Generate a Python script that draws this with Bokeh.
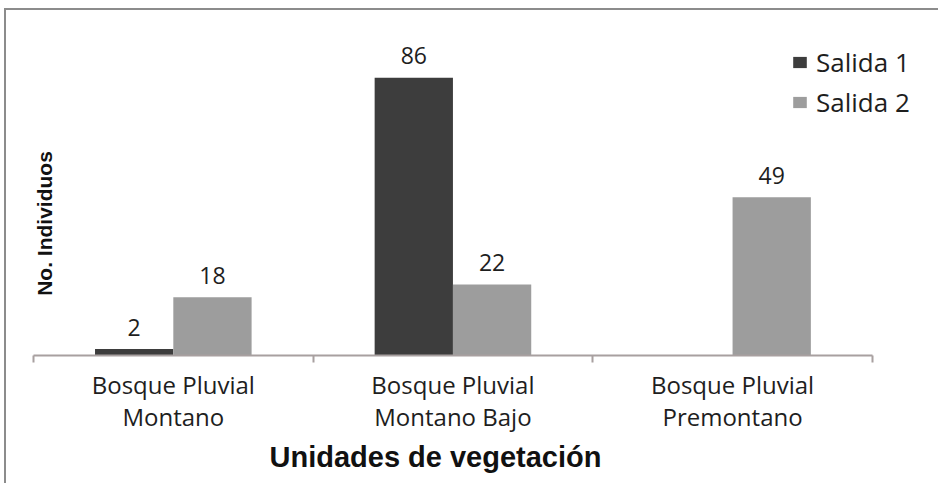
import math
from bokeh.plotting import figure
from bokeh.models import (ColumnDataSource, FixedTicker, Legend, LegendItem, Label, Title)
from bokeh.core.properties import value
from bokeh.embed import file_html
from bokeh.resources import INLINE

# ---- data ----
categories = ["Bosque Pluvial\nMontano", "Bosque Pluvial\nMontano Bajo", "Bosque Pluvial\nPremontano"]
series_names = ["Salida 1", "Salida 2"]
salida1 = [2, 86, 0]
salida2 = [18, 22, 49]
x_title = "Unidades de vegetación"
y_title = "No. Individuos"

colors = ["#3d3d3d", "#9d9d9d"]
offsets = [-0.14, 0.14]
bar_w = 0.28
FONT = "Open Sans"
BOLD = "Liberation Sans"
n = len(categories)

p = figure(width=934, height=475, output_backend="svg", toolbar_location=None,
           x_range=(0, n + 0.215), y_range=(0, 100),
           min_border_left=27, min_border_right=8, min_border_top=22, min_border_bottom=130)
p.margin = (8, 0, 0, 4)
p.styles = {"border-top": "2px solid #8c8c8c", "border-left": "2px solid #8c8c8c"}
p.outline_line_color = None
p.grid.visible = False
p.background_fill_color = "white"
p.border_fill_color = "white"
p.yaxis.visible = False

renderers = []
for vals, off, col in zip([salida1, salida2], offsets, colors):
    xs = [i + 0.5 + off for i in range(n)]
    src = ColumnDataSource(dict(x=xs, top=vals))
    r = p.vbar(x="x", top="top", width=bar_w, bottom=0, source=src,
               fill_color=col, line_color=None)
    renderers.append(r)
    lx = [x for x, v in zip(xs, vals) if v > 0]
    lv = [v for v in vals if v > 0]
    lsrc = ColumnDataSource(dict(x=lx, y=lv, t=[str(v) for v in lv]))
    p.text(x="x", y="y", text="t", source=lsrc, text_align="center",
           text_baseline="middle", y_offset=-22, text_font=value(FONT),
           text_font_size="23px", text_color="#1e1e1e")

ax = p.xaxis[0]
ax.bounds = (0, n)
ax.ticker = FixedTicker(ticks=[i + 0.5 for i in range(n)],
                        minor_ticks=list(range(n + 1)))
ax.major_label_overrides = {i + 0.5: c for i, c in enumerate(categories)}
ax.major_tick_line_color = None
ax.major_tick_out = 0
ax.major_tick_in = 0
ax.minor_tick_in = 0
ax.minor_tick_out = 7
ax.minor_tick_line_color = "#a8a0a0"
ax.minor_tick_line_width = 2
ax.axis_line_color = "#a8a0a0"
ax.axis_line_width = 2
ax.major_label_text_font = FONT
ax.major_label_text_font_size = "24px"
ax.major_label_text_color = "#1e1e1e"
ax.major_label_text_line_height = 0.97
ax.major_label_standoff = 5

p.add_layout(Title(text=x_title, align="left", offset=236, standoff=6,
                   text_font=BOLD, text_font_style="bold", text_font_size="29px",
                   text_color="#111111"), "below")

p.add_layout(Label(x=11, y=132, x_units="screen", y_units="screen", text=y_title,
                   angle=math.pi / 2, text_align="center", text_baseline="middle",
                   text_font=BOLD, text_font_style="bold", text_font_size="21px",
                   text_color="#111111"))

legend = Legend(items=[LegendItem(label=s, renderers=[r]) for s, r in zip(series_names, renderers)],
                location=(758, 235), padding=0, margin=0, spacing=4,
                glyph_width=17, glyph_height=14, label_standoff=8,
                label_text_font=FONT, label_text_font_size="26px",
                label_text_color="#1e1e1e", border_line_color=None,
                background_fill_alpha=0)
p.add_layout(legend)

open("out.html", "w").write(file_html(p, INLINE))
